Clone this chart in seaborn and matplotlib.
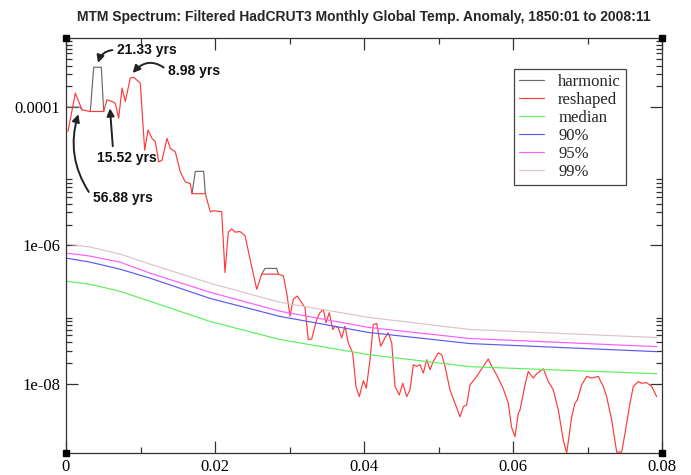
import numpy as np
import pandas as pd
import matplotlib
matplotlib.use("Agg")
import matplotlib.pyplot as plt
from matplotlib.ticker import FixedLocator, FixedFormatter
import seaborn as sns

# ---------------- data ----------------
freq_reshaped = [0.00027, 0.00125, 0.00215, 0.00326, 0.00506, 0.0055, 0.00617, 0.00662, 0.00707, 0.00752,
                 0.00796, 0.00863, 0.00909, 0.00997, 0.01056, 0.01101, 0.01154, 0.01199, 0.01244, 0.01289,
                 0.01356, 0.0140, 0.01467, 0.01534, 0.01601, 0.01668, 0.01691, 0.0187, 0.01937, 0.0198,
                 0.0209, 0.02134, 0.02179, 0.02224, 0.02268, 0.02336, 0.02403, 0.0247, 0.0256, 0.02627,
                 0.0285, 0.02917, 0.02962, 0.03007, 0.03051, 0.03105, 0.03164, 0.03208, 0.03252, 0.03298,
                 0.03365, 0.03409, 0.03454, 0.0349, 0.03534, 0.0358, 0.03611, 0.03655, 0.03701, 0.03745,
                 0.03789, 0.03848, 0.03893, 0.03937, 0.03991, 0.04031, 0.04081, 0.04125, 0.0417, 0.04224,
                 0.04282, 0.04326, 0.04372, 0.04416, 0.04474, 0.0452, 0.04573, 0.04617, 0.04662, 0.04707,
                 0.04752, 0.04796, 0.04842, 0.04886, 0.0493, 0.04997, 0.05043, 0.05087, 0.05154, 0.05221,
                 0.05289, 0.05333, 0.05378, 0.05423, 0.05513, 0.05601, 0.05668, 0.05714, 0.05781, 0.0587,
                 0.05937, 0.05982, 0.06027, 0.06071, 0.06094, 0.06161, 0.06205, 0.06272, 0.06318, 0.06407,
                 0.06474, 0.06541, 0.06608, 0.06675, 0.06721, 0.06788, 0.06832, 0.06863, 0.06922, 0.06989,
                 0.07056, 0.07145, 0.07212, 0.07257, 0.07325, 0.07392, 0.07459, 0.07503, 0.0757, 0.07615,
                 0.07682, 0.07727, 0.07795, 0.07862, 0.07929]
power_reshaped = [4.48e-5, 1.60e-4, 9.14e-5, 8.66e-5, 8.66e-5, 1.28e-4, 1.21e-4, 1.14e-4, 6.92e-5, 1.89e-4,
                  1.21e-4, 2.64e-4, 2.70e-4, 2.23e-4, 2.39e-5, 4.68e-5, 3.54e-5, 3.17e-5, 1.62e-5, 1.71e-5,
                  3.54e-5, 2.53e-5, 2.27e-5, 1.16e-5, 8.30e-6, 7.85e-6, 5.61e-6, 5.61e-6, 3.07e-6, 3.18e-6,
                  3.07e-6, 4.07e-7, 1.56e-6, 1.74e-6, 1.56e-6, 1.59e-6, 1.39e-6, 6.37e-7, 2.33e-7, 3.85e-7,
                  3.85e-7, 3.64e-7, 2.08e-7, 9.53e-8, 1.67e-7, 1.86e-7, 1.49e-7, 1.26e-7, 4.37e-8, 4.45e-8,
                  8.53e-8, 1.07e-7, 1.19e-7, 7.64e-8, 1.07e-7, 6.10e-8, 6.81e-8, 6.46e-8, 4.62e-8, 6.81e-8,
                  3.91e-8, 2.80e-8, 9.14e-9, 6.53e-9, 1.11e-8, 8.66e-9, 2.23e-8, 7.21e-8, 7.46e-8, 3.49e-8,
                  4.62e-8, 5.46e-8, 3.91e-8, 9.14e-9, 6.92e-9, 1.02e-8, 6.53e-9, 8.18e-9, 1.89e-8, 1.79e-8,
                  1.89e-8, 1.43e-8, 2.23e-8, 1.60e-8, 2.11e-8, 2.80e-8, 2.64e-8, 1.79e-8, 8.18e-9, 5.24e-9,
                  3.34e-9, 4.68e-9, 4.95e-9, 9.66e-9, 1.28e-8, 1.79e-8, 2.29e-8, 1.79e-8, 1.35e-8, 8.45e-9,
                  5.24e-9, 2.33e-9, 1.72e-9, 3.75e-9, 4.19e-9, 9.66e-9, 1.51e-8, 1.21e-8, 1.40e-8, 1.65e-8,
                  1.08e-8, 8.18e-9, 4.19e-9, 1.53e-9, 1.0e-9, 3.34e-9, 5.24e-9, 5.85e-9, 9.66e-9, 1.28e-8,
                  1.21e-8, 1.28e-8, 9.14e-9, 6.53e-9, 2.99e-9, 1.03e-9, 1.03e-9, 1.92e-9, 5.24e-9, 9.14e-9,
                  1.08e-8, 1.02e-8, 1.04e-8, 9.14e-9, 6.53e-9]

# harmonic spectrum: differs from the reshaped one only at the line components
harm_seg_id = [0, 0, 0, 1, 1, 1, 1, 2, 2, 2, 2, 3, 3, 3, 3]
harm_freq = [0.00003, 0.0019, 0.00215,
             0.00326, 0.00372, 0.00474, 0.00506,
             0.01691, 0.01736, 0.01848, 0.0187,
             0.02627, 0.02671, 0.02828, 0.0285]
harm_power = [1.0e-4, 1.0e-4, 9.14e-5,
              8.66e-5, 3.78e-4, 3.78e-4, 8.66e-5,
              5.61e-6, 1.18e-5, 1.18e-5, 5.61e-6,
              3.85e-7, 4.66e-7, 4.66e-7, 3.85e-7]

conf_freq = [0.0, 0.00322, 0.00725, 0.01128, 0.01933, 0.02872, 0.04067, 0.05423, 0.07933]
median_power = [3.05e-7, 2.75e-7, 2.18e-7, 1.56e-7, 7.98e-8, 4.37e-8, 2.64e-8, 1.77e-8, 1.40e-8]
p90_power = [6.58e-7, 5.75e-7, 4.55e-7, 3.37e-7, 1.72e-7, 9.43e-8, 5.52e-8, 3.82e-8, 2.92e-8]
p95_power = [7.78e-7, 7.03e-7, 5.75e-7, 3.98e-7, 2.11e-7, 1.12e-7, 6.53e-8, 4.52e-8, 3.45e-8]
p99_power = [1.05e-6, 9.51e-7, 7.52e-7, 5.38e-7, 2.85e-7, 1.51e-7, 9.12e-8, 6.10e-8, 4.67e-8]

x_major = [0.0, 0.02, 0.04, 0.06, 0.08]
x_labels = ["0", "0.02", "0.04", "0.06", "0.08"]
y_major = [1e-8, 1e-6, 1e-4]
y_labels = ["1e-08", "1e-06", "0.0001"]

title = "MTM Spectrum: Filtered HadCRUT3 Monthly Global Temp. Anomaly, 1850:01 to 2008:11"

# ---------------- styling ----------------
sns.set_style("white")
plt.rcParams["font.family"] = ["Liberation Serif", "DejaVu Serif"]

fig = plt.figure(figsize=(6.91, 4.75), dpi=100)
ax = fig.add_axes([66 / 691, 1 - 453 / 475, 596 / 691, 415 / 475])

c_harm = "#6a6a6a"
c_red = "#ff3a3a"
c_green = "#5cf05c"
c_blue = "#5a5af0"
c_mag = "#ff5cff"
c_99 = "#dcc4c4"
lw = 0.85

harm_df = pd.DataFrame({"f": harm_freq, "p": harm_power, "seg": harm_seg_id})
for i, (sid, g) in enumerate(harm_df.groupby("seg")):
    sns.lineplot(data=g, x="f", y="p", ax=ax, color=c_harm, lw=lw,
                 estimator=None, sort=False, label="harmonic" if i == 0 else None)
sns.lineplot(x=freq_reshaped, y=power_reshaped, ax=ax, color=c_red, lw=lw,
             estimator=None, sort=False, label="reshaped")
sns.lineplot(x=conf_freq, y=median_power, ax=ax, color=c_green, lw=lw, estimator=None, label="median")
sns.lineplot(x=conf_freq, y=p90_power, ax=ax, color=c_blue, lw=lw, estimator=None, label="90%")
sns.lineplot(x=conf_freq, y=p95_power, ax=ax, color=c_mag, lw=lw, estimator=None, label="95%")
sns.lineplot(x=conf_freq, y=p99_power, ax=ax, color=c_99, lw=lw, estimator=None, label="99%")

ax.set_yscale("log")
ax.set_xlim(0, 0.08)
ax.set_ylim(1e-9, 1e-3)
ax.set_xlabel("")
ax.set_ylabel("")

ax.xaxis.set_major_locator(FixedLocator(x_major))
ax.xaxis.set_major_formatter(FixedFormatter(x_labels))
ax.xaxis.set_minor_locator(FixedLocator([0.01, 0.03, 0.05, 0.07]))
ax.yaxis.set_major_locator(FixedLocator(y_major))
ax.yaxis.set_major_formatter(FixedFormatter(y_labels))
ax.yaxis.set_minor_locator(FixedLocator([k * 10.0 ** e for e in (-8, -6, -4) for k in range(2, 10)]))
ax.yaxis.set_minor_formatter(FixedFormatter([]))

ax.tick_params(which="both", direction="in", top=True, right=True, bottom=True, left=True,
               colors="#333333", labelcolor="black", labelsize=12, pad=4)
ax.tick_params(which="major", length=8.5, width=0.9)
ax.tick_params(which="minor", length=4.5, width=0.9)
for s in ax.spines.values():
    s.set_color("#333333")
    s.set_linewidth(0.9)

# corner handles
ax.plot([0, 1, 0, 1], [0, 0, 1, 1], "s", transform=ax.transAxes, clip_on=False,
        color="black", ms=4.5, zorder=10)

ax.set_title(title, fontsize=10, fontweight="bold", family=["Liberation Sans", "DejaVu Sans"], pad=12)

# annotations
akw = dict(fontsize=10, fontweight="bold", family=["Liberation Sans", "DejaVu Sans"], color="#111111")
aprops = dict(arrowstyle="-|>", color="#222222", lw=1.4, mutation_scale=11, shrinkA=1, shrinkB=0)
ax.annotate("21.33 yrs", xy=(0.0043, 4.37e-4), xytext=(0.00685, 6.7e-4), ha="left", va="center",
            arrowprops=dict(aprops, connectionstyle="arc3,rad=0.4", relpos=(0, 0.5)), **akw)
ax.annotate("8.98 yrs", xy=(0.00895, 3.12e-4), xytext=(0.0137, 3.34e-4), ha="left", va="center",
            arrowprops=dict(aprops, connectionstyle="arc3,rad=0.5", relpos=(0, 0.5)), **akw)
ax.annotate("15.52 yrs", xy=(0.0059, 9.6e-5), xytext=(0.00416, 1.85e-5), ha="left", va="center",
            arrowprops=dict(aprops, connectionstyle="arc3,rad=0", relpos=(0.27, 1)), **akw)
ax.annotate("56.88 yrs", xy=(0.00165, 7.9e-5), xytext=(0.0036, 4.9e-6), ha="left", va="center",
            arrowprops=dict(aprops, connectionstyle="arc3,rad=-0.25", relpos=(0, 0.5)), **akw)

leg = ax.legend(loc="upper left", bbox_to_anchor=(0.7517, 0.9246), borderaxespad=0,
                frameon=True, fancybox=False, framealpha=1, edgecolor="#444444",
                fontsize=12, handlelength=1.5, handletextpad=0.85, labelspacing=0.12,
                borderpad=0.3, prop={"family": ["Liberation Serif"], "size": 12})
leg.get_frame().set_linewidth(0.9)

fig.savefig("out.png", dpi=100)
